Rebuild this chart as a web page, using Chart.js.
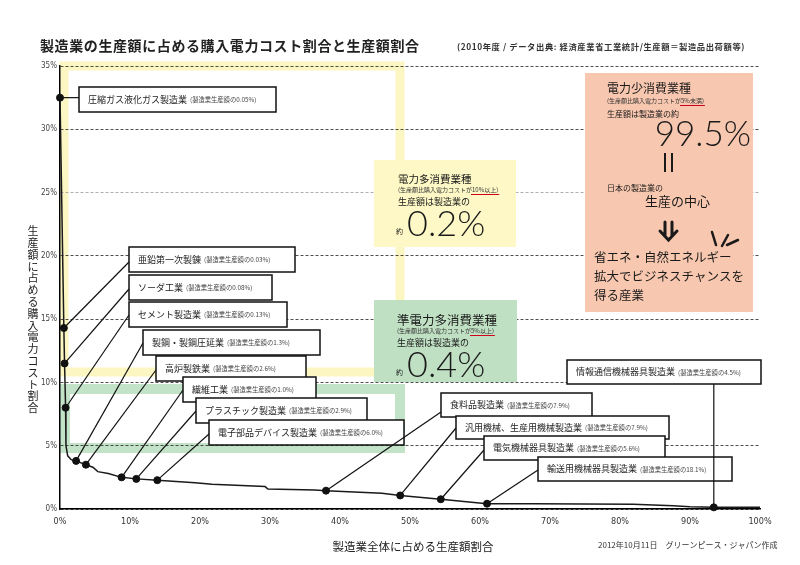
<!DOCTYPE html>
<html lang="ja">
<head>
<meta charset="utf-8">
<title>製造業の生産額に占める購入電力コスト割合と生産額割合</title>
<script src="https://cdn.jsdelivr.net/npm/chart.js@4.4.1/dist/chart.umd.min.js"></script>
<style>
  html, body { margin: 0; padding: 0; background: #fff; }
  #wrap { width: 800px; height: 565px; }
</style>
</head>
<body>
<div id="wrap"><canvas id="costChart" width="800" height="565"></canvas></div>
<script>
// Data
const industryNames = [
    '圧縮ガス液化ガス製造業', '亜鉛第一次製錬', 'ソーダ工業', 'セメント製造業',
    '製鋼・製鋼圧延業', '高炉製鉄業', '繊維工業', 'プラスチック製造業',
    '電子部品デバイス製造業', '食料品製造業', '汎用機械、生産用機械製造業',
    '電気機械器具製造業', '輸送用機械器具製造業', '情報通信機械器具製造業'
];
const industryShares = ['0.05%', '0.03%', '0.08%', '0.13%', '1.3%', '2.6%', '1.0%',
    '2.9%', '6.0%', '7.9%', '7.9%', '5.6%', '18.1%', '4.5%'];
// cumulative share of production (x, %) and power cost ratio (y, %)
const markerX = [0, 0.55, 0.65, 0.8, 2.3, 3.7, 8.8, 10.9, 13.9, 38.0, 48.6, 54.4, 61.0, 93.4];
const markerY = [32.5, 14.3, 11.5, 8.0, 3.8, 3.5, 2.5, 2.38, 2.28, 1.45, 1.07, 0.77, 0.42, 0.13];

const curveX = [0, 0.55, 0.65, 0.8, 0.85, 1.1, 1.6, 2.3, 3.7, 4.7, 5.4, 6.9, 8.8, 10.9, 13.9,
    19.3, 21.7, 29.3, 29.7, 36.4, 38.0, 46.0, 48.6, 54.4, 61.0, 67.6, 81.9, 87.6, 90.0, 93.4, 100];
const curveY = [32.5, 14.3, 11.5, 8.0, 5.0, 4.2, 3.9, 3.8, 3.5, 3.3, 2.95, 2.8, 2.5, 2.38, 2.28,
    2.08, 1.96, 1.77, 1.58, 1.5, 1.45, 1.24, 1.07, 0.77, 0.42, 0.42, 0.37, 0.26, 0.18, 0.13, 0.13];

const yTickStep = 5;
const xTickStep = 10;

// Label box layout (pixels): x, y, w, h, connector end y ('h' = horizontal, 'v' = vertical)
const labelBoxes = [
    [79, 87, 197, 25, 'h'],
    [129, 247, 166, 25, 262],
    [129, 275, 143, 25, 289],
    [129, 302, 158, 25, 315],
    [143, 330, 177, 25, 343],
    [156, 356, 150, 25, 370],
    [183, 377, 133, 25, 390],
    [196, 398, 171, 25, 411],
    [209, 420, 195, 25, 434],
    [441, 393, 151, 24, 412],
    [456, 416, 213, 23, 428],
    [484, 436, 181, 24, 450],
    [538, 457, 194, 24, 470],
    [567, 360, 194, 24, 'v']
];

const JP = '"Noto Sans CJK JP", "Noto Sans CJK SC", sans-serif';
const NARROW = '"Liberation Sans Narrow", "DejaVu Sans Condensed", sans-serif';
const THIN = 'Lato, "Noto Sans", sans-serif';

function drawText(ctx, str, x, y, size, opts) {
    opts = opts || {};
    ctx.font = (opts.weight || 'normal') + ' ' + size + 'px ' + (opts.family || JP);
    ctx.fillStyle = opts.color || '#1a1a1a';
    ctx.textAlign = opts.align || 'left';
    ctx.textBaseline = opts.baseline || 'middle';
    ctx.fillText(str, x, y);
    return ctx.measureText(str).width;
}

// small note line with a red underline under its last part
function drawNote(ctx, x, y, before, marked) {
    let w = drawText(ctx, before, x, y, 6, {color: '#333'});
    const w2 = drawText(ctx, marked, x + w, y, 6, {color: '#333'});
    drawText(ctx, ')', x + w + w2, y, 6, {color: '#333'});
    ctx.strokeStyle = '#d0021b';
    ctx.lineWidth = 1;
    ctx.beginPath();
    ctx.moveTo(x + w - 1, y + 4.5);
    ctx.lineTo(x + w + w2 + 3, y + 4.5);
    ctx.stroke();
}

const backgroundPlugin = {
    id: 'backgroundFrames',
    beforeDraw(chart) {
        const ctx = chart.ctx;
        ctx.save();
        ctx.fillStyle = '#fff';
        ctx.fillRect(0, 0, chart.width, chart.height);

        // yellow frame (10% and above) and green frame (5-10%)
        ctx.lineWidth = 9;
        ctx.strokeStyle = '#fcf6c2';
        ctx.strokeRect(64, 66, 336, 306);
        ctx.lineWidth = 10;
        ctx.strokeStyle = '#c3e3c8';
        ctx.strokeRect(65, 389, 335, 59);

        // titles
        ctx.letterSpacing = '0.6px';
        drawText(ctx, '製造業の生産額に占める購入電力コスト割合と生産額割合', 40, 46, 14, {weight: 'bold', color: '#222'});
        ctx.letterSpacing = '0.6px';
        drawText(ctx, '(2010年度 / データ出典: 経済産業省工業統計/生産額＝製造品出荷額等)', 457, 47, 8.3, {weight: 'bold', color: '#333'});
        ctx.letterSpacing = '0px';

        // vertical y-axis title
        const yTitle = '生産額に占める購入電力コスト割合';
        for (let i = 0; i < yTitle.length; i++) {
            drawText(ctx, yTitle[i], 33, 231 + i * 11.8, 11, {align: 'center', color: '#222'});
        }
        drawText(ctx, '製造業全体に占める生産額割合', 413, 547, 11.5, {align: 'center', color: '#222'});
        drawText(ctx, '2012年10月11日　グリーンピース・ジャパン作成', 598, 545, 8, {color: '#333'});
        ctx.restore();
    },
    beforeDatasetsDraw(chart) {
        const ctx = chart.ctx;
        const xs = chart.scales.x, ys = chart.scales.y;
        ctx.save();

        // yellow box
        ctx.fillStyle = '#fdf8c6';
        ctx.fillRect(374, 160, 142, 87);
        drawText(ctx, '電力多消費業種', 398, 179, 10.5);
        drawNote(ctx, 398, 190, '(生産額比購入電力コストが', '10%以上');
        drawText(ctx, '生産額は製造業の', 398, 202, 9);
        drawText(ctx, '約', 396, 231, 7);
        drawText(ctx, '0.2%', 407, 236, 36, {family: THIN, weight: '300', baseline: 'alphabetic'});

        // green box
        ctx.fillStyle = '#c0e0c4';
        ctx.fillRect(374, 300, 143, 82);
        drawText(ctx, '準電力多消費業種', 397, 320, 12.5);
        drawNote(ctx, 397, 331, '(生産額比購入電力コストが', '5%以上');
        drawText(ctx, '生産額は製造業の', 397, 343, 9);
        drawText(ctx, '約', 396, 372, 7);
        drawText(ctx, '0.4%', 407, 377, 36, {family: THIN, weight: '300', baseline: 'alphabetic'});

        // pink box
        ctx.fillStyle = '#f8c7af';
        ctx.fillRect(585, 73, 168, 239);
        drawText(ctx, '電力少消費業種', 607, 88, 12);
        drawNote(ctx, 607, 101, '(生産額比購入電力コストが', '5%未満');
        drawText(ctx, '生産額は製造業の約', 607, 114, 8);
        drawText(ctx, '99.5%', 751, 146, 35, {family: THIN, weight: '300', baseline: 'alphabetic', align: 'right'});
        ctx.strokeStyle = '#1a1a1a';
        ctx.lineWidth = 2;
        ctx.beginPath();
        ctx.moveTo(665, 153); ctx.lineTo(665, 172);
        ctx.moveTo(672, 153); ctx.lineTo(672, 172);
        ctx.stroke();
        drawText(ctx, '日本の製造業の', 607, 188, 8);
        drawText(ctx, '生産の中心', 645, 201, 13);
        ctx.lineWidth = 3;
        ctx.lineCap = 'round';
        ctx.beginPath();
        ctx.moveTo(665, 222); ctx.lineTo(665, 236);
        ctx.moveTo(672, 222); ctx.lineTo(672, 236);
        ctx.moveTo(660, 231); ctx.lineTo(668.5, 240); ctx.lineTo(677, 231);
        ctx.stroke();
        ctx.lineWidth = 2.5;
        ctx.beginPath();
        ctx.moveTo(712, 232); ctx.lineTo(716, 245);
        ctx.moveTo(728, 235); ctx.lineTo(722, 246);
        ctx.moveTo(738, 240); ctx.lineTo(727, 245);
        ctx.stroke();
        ctx.lineCap = 'butt';
        drawText(ctx, '省エネ・自然エネルギー', 594, 257, 12.5);
        drawText(ctx, '拡大でビジネスチャンスを', 594, 276, 12.5);
        drawText(ctx, '得る産業', 594, 295, 12.5);

        // connectors and label boxes, in order so later boxes overlap earlier ones
        labelBoxes.forEach((b, i) => {
            const px = xs.getPixelForValue(markerX[i]);
            const py = ys.getPixelForValue(markerY[i]);
            const [bx, by, bw, bh, anchor] = b;
            ctx.strokeStyle = '#111';
            ctx.lineWidth = 1.2;
            ctx.beginPath();
            ctx.moveTo(px, py);
            if (anchor === 'h') ctx.lineTo(bx, py);
            else if (anchor === 'v') ctx.lineTo(px, by + bh);
            else ctx.lineTo(bx, anchor);
            ctx.stroke();

            if (anchor !== 'v') drawLabelBox(ctx, bx, by, bw, bh, i);
        });
        // the vertical connector of the last box runs over the box below it
        const last = labelBoxes.length - 1;
        drawLabelBox(ctx, ...labelBoxes[last].slice(0, 4), last);
        ctx.restore();
    }
};

function drawLabelBox(ctx, bx, by, bw, bh, i) {
    ctx.fillStyle = '#fff';
    ctx.fillRect(bx, by, bw, bh);
    ctx.strokeStyle = '#111';
    ctx.lineWidth = 1.5;
    ctx.strokeRect(bx, by, bw, bh);
    const w = drawText(ctx, industryNames[i], bx + 9, by + bh / 2, 9, {color: '#222'});
    drawText(ctx, '(製造業生産額の' + industryShares[i] + ')', bx + 12 + w, by + bh / 2 + 0.5, 6.3, {color: '#444'});
}

const ctx = document.getElementById('costChart').getContext('2d');
const costChart = new Chart(ctx, {
    type: 'scatter',
    data: {
        datasets: [
            {
                label: '業種',
                data: markerX.map((x, i) => ({x: x, y: markerY[i]})),
                pointRadius: 3.5,
                pointBackgroundColor: '#111',
                pointBorderColor: '#111',
                showLine: false,
                clip: false
            },
            {
                label: '購入電力コスト割合',
                data: curveX.map((x, i) => ({x: x, y: curveY[i]})),
                showLine: true,
                borderColor: '#1a1a1a',
                borderWidth: 1.5,
                pointRadius: 0,
                tension: 0,
                clip: false
            }
        ]
    },
    options: {
        responsive: false,
        animation: false,
        layout: {padding: {top: 66, right: 40, left: 0, bottom: 0}},
        plugins: {
            legend: {display: false},
            tooltip: {enabled: false},
            title: {display: false}
        },
        scales: {
            x: {
                type: 'linear',
                min: 0,
                max: 100,
                afterFit: function(scale) { scale.height = 56; },
                ticks: {
                    stepSize: xTickStep,
                    callback: v => v + '%',
                    padding: 7,
                    maxRotation: 0,
                    color: '#333',
                    font: {family: NARROW, size: 9}
                },
                grid: {display: false, drawTicks: false},
                border: {display: true, color: '#000', width: 1.5}
            },
            y: {
                min: 0,
                max: 35,
                afterFit: function(scale) { scale.width = 60; },
                ticks: {
                    stepSize: yTickStep,
                    callback: v => v + '%',
                    padding: 3,
                    color: '#444',
                    font: {family: NARROW, size: 8}
                },
                grid: {
                    drawTicks: false,
                    lineWidth: 0.8,
                    color: c => (c.tick && c.tick.value === 25) ? '#9a9a9a' : '#222'
                },
                border: {display: true, color: '#000', width: 1.5, dash: [3, 2]}
            }
        }
    },
    plugins: [backgroundPlugin]
});
</script>
</body>
</html>
